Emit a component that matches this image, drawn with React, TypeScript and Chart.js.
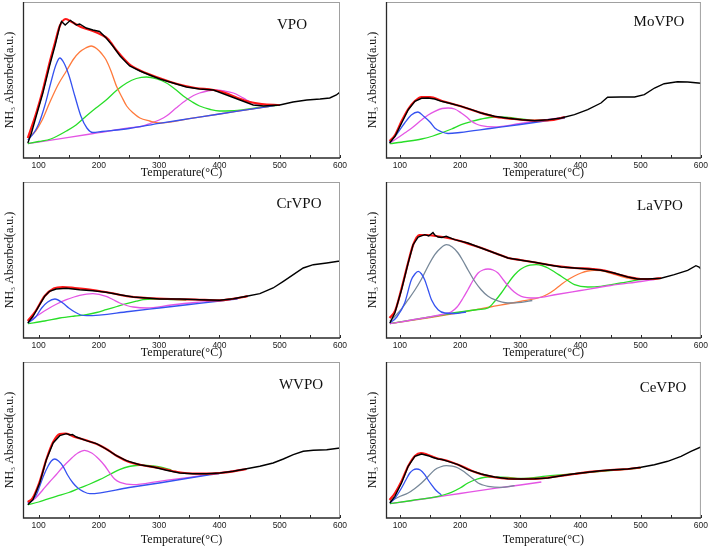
import React, { useEffect, useRef } from "react";
import { Chart, registerables } from "chart.js";
Chart.register(...registerables);

type Pt = [number, number];

const tickValues = [100, 200, 300, 400, 500, 600];
const minorTickValues = [150, 250, 350, 450, 550];
const xTitle = "Temperature(°C)";
const yTitle = "NH₃ Absorbed(a.u.)";

// ---------- VPO ----------
const vpoBlack: Pt[] = [[82,15],[88,25],[96,42],[107,65],[118,92],[127,112],[135,132],[138,136.5],[144,133],[152.6,137.7],[162.6,133],[168,134],[179,130],[190,128],[201,126.5],[212,120],[223,112],[235,102],[251,92],[268,87],[284,83],[301,79],[323,75],[345,71],[367,69],[390,68],[412,63],[434,58],[456,53],[473,52],[500,53],[522,56],[545,58],[567,59],[583,60],[594,63],[600,66]];
const vpoRed: Pt[] = [[82,20],[96,45],[107,68],[118,95],[127,115],[135,132],[145,139],[155,136],[170,131],[190,127],[205,123],[215,119],[230,107],[250,94],[270,87],[300,80],[330,74],[360,70],[390,68],[410,65],[430,60],[450,56],[470,54],[500,53]];
const vpoBlue: Pt[] = [[82,18],[92,25],[100,34],[110,52],[120,75],[128,92],[135,100],[142,95],[150,83],[160,62],[170,42],[180,30],[190,25.5],[205,26.5],[250,29.5],[300,34.6],[350,39.3],[400,44],[450,48.6],[500,53.3]];
const vpoOrange: Pt[] = [[82,20],[95,27],[105,37],[118,55],[132,73],[146,87],[158,99],[168,106],[178,110],[187,112],[197,109],[205,104],[212,98],[220,87],[229,72],[238,61],[246,52],[257,45],[268,40],[284,37],[300,35],[350,39.3],[400,44],[450,48.6],[500,53.3]];
const vpoGreen: Pt[] = [[82,14.3],[100,16.5],[120,19],[146,27],[162,33],[179,42],[195,50],[212,58],[230,68],[246,75],[262,79.5],[279,81],[296,79],[312,75],[326,69],[340,62],[355,56],[367,52],[385,48.5],[400,47],[430,47.5],[460,50],[500,53]];
const vpoMagenta: Pt[] = [[82,14.3],[150,20.6],[200,25.3],[250,30],[270,31.5],[285,34.5],[300,38],[312,42],[328,50],[345,58],[357,62.5],[367,65],[380,67],[392,68],[408,67],[423,65],[435,61.5],[445,58],[456,55],[467,53.5],[500,53.3]];

// ---------- MoVPO ----------
const moBlack: Pt[] = [[83,15],[92,21.7],[103,35],[114,48.3],[125,56.7],[136,59.7],[147,60],[158,59],[169,56.7],[186,54.3],[202,51.7],[219,48.3],[235,45],[257,41.7],[280,39.7],[302,38.3],[324,37.3],[346,38.3],[368,40],[390,43.3],[412,48.3],[434,55],[445,60.7],[467,61],[490,61],[506,63.3],[523,70],[539,74.3],[561,76.3],[578,76],[600,74.7]];
const moRed: Pt[] = [[83,17],[92,23],[103,37],[114,49],[125,57],[136,61],[150,61],[170,57],[200,52],[230,46],[260,41],[290,39],[320,37.5],[350,37.8],[365,39.5],[374,41]];
const moBlue: Pt[] = [[83,16],[95,24],[108,35],[119,43],[130,46],[140,41.5],[150,36],[158,30],[168,26.5],[180,24.5],[200,25.5],[250,29.5],[300,33.5],[335,36.5],[374,40]];
const moMagenta: Pt[] = [[83,15],[96,20],[108,25],[122,31],[136,38],[147,43],[158,46.7],[170,49.5],[180,50],[191,49],[202,45],[211,41],[219,36.7],[227,34],[235,32.3],[257,31],[300,34.5],[340,38],[374,41]];
const moGreen: Pt[] = [[83,14.3],[110,16.5],[136,19],[155,22],[169,25],[186,29],[202,33.3],[219,36.5],[235,39],[257,41],[280,40.7],[302,39],[324,37.7],[350,38],[374,40.5]];

// ---------- CrVPO ----------
const crBlack: Pt[] = [[82,15],[90.6,21.7],[101.7,33.3],[110,41.7],[118,46.7],[129,49],[146,49.7],[168,48.3],[190,47.3],[212,45.7],[234.5,43.3],[256.7,41],[279,40],[301,39],[334,39],[367,38.3],[400.6,37.7],[423,39.3],[445,41.7],[467,44.3],[489,50],[506,56.7],[522.5,63.3],[539,70],[555.7,73.3],[578,75],[597,76.7],[600,76.7]];
const crRed: Pt[] = [[82,17],[95,27],[110,42],[125,49.5],[140,51],[160,50],[190,48],[220,45],[250,41.5],[280,40],[320,39],[360,38.5],[400,37.7],[420,39],[440,41],[447,42]];
const crBlue: Pt[] = [[82,15],[95,21],[105,30],[115,36],[127,39],[140,35],[150,30],[160,26],[170,23],[180,22.3],[250,26.5],[300,30],[350,33.5],[400,37],[430,39]];
const crMagenta: Pt[] = [[82,16.7],[97,22],[113,28.3],[130,34],[146,38.3],[168,42.7],[190,44.3],[212,41.7],[223,38.5],[234.5,35],[246,32.5],[257,31],[279,30],[320,33],[360,35.5],[412,38]];
const crGreen: Pt[] = [[82,14.3],[110,17],[135,20],[160,22],[179,23.3],[196,25.5],[212,28.3],[230,31.5],[246,34.3],[262,36.8],[273,38.3],[290,39],[301,39],[323,38.3],[345,38]];

// ---------- LaVPO ----------
const laBlack: Pt[] = [[83.4,15],[91.7,25],[102.8,48.3],[113.8,75],[122,93.3],[130.4,101],[141.4,103.3],[148,102],[155,105.5],[158,103],[163.5,101],[170,100.5],[177,101.7],[191,98.3],[213,95],[235,90],[257.5,85],[279.6,80],[301.7,77.7],[323.8,75.7],[346,73.3],[368,71],[390,70],[412,69],[434,67.7],[456,65],[478.5,61],[495,59],[511.6,59],[533.7,59.7],[555.8,63.3],[578,67.7],[591.7,72.3],[597,71],[600,69]];
const laRed: Pt[] = [[83,20],[92,27],[103,50],[114,76],[122,93],[132,103],[145,103],[160,102],[180,100],[200,97],[220,93],[240,89],[260,84.5],[280,80],[300,78],[330,75],[360,72],[390,70],[420,69],[440,67.5],[460,64],[480,61],[500,59],[520,59],[534,60]];
const laBlue: Pt[] = [[83.4,15],[95,21],[108,35],[119,58],[125,64],[130.4,66.7],[136,64],[141.4,58],[147,48],[152.5,38.3],[163.5,28.3],[174.6,25],[191,24.5],[210,26]];
const laGrey: Pt[] = [[83.4,16.7],[100,27],[113.8,38.3],[125,48],[136,59],[147,72],[158,83.3],[168,90],[177.4,93.3],[187,91],[196.7,85],[205,77],[213,68.3],[224,57],[235,48.3],[246,42],[257.5,38.3],[279.6,35],[301.7,35.7],[320,37.5]];
const laMagenta: Pt[] = [[83.4,14.3],[130,19],[170,23.5],[185,26],[195,31],[205,40],[213,48.3],[222,58],[230,65],[238,68],[246.4,69],[255,68],[263,65],[272,58],[279.6,52.3],[290,46],[301.7,41.7],[323.8,40],[360,43.5],[400,47.5],[450,52.5],[500,56.5],[523,58.5]];
const laGreen: Pt[] = [[83.4,14.3],[150,21],[200,26],[230,28.5],[246.4,30],[258,37],[268.5,45],[280,55],[290.6,63.3],[300,68.5],[307,71],[316,72.8],[326.5,73.3],[336,72.5],[346,70],[357,66],[368,61.7],[380,57],[390,53.3],[412,51],[434,51.7],[467,55],[500,58.3],[533.7,59.7]];
const laOrange: Pt[] = [[83.4,14.3],[150,20.5],[200,25.5],[250,31],[300,36.5],[335,41],[346,44],[357,48.3],[368,53.5],[379,58.3],[390,62],[401,65],[412,67],[423,67.7],[434,67.3],[445,65.7],[456,63.5],[467,61.7],[478,60],[490,59],[523,59]];

// ---------- WVPO ----------
const wBlack: Pt[] = [[82,13.3],[90.6,18.3],[101.7,35],[112.7,58.3],[124,75],[135,82.3],[146,84.3],[152,83],[156,83.5],[162.6,81],[179,77.3],[196,74.3],[212,69],[229,62.3],[245.6,57.3],[267.8,53.3],[290,51],[312,47.7],[334,45],[356,44.3],[378.5,44.3],[400.6,45],[423,46.7],[445,49.3],[467,51.7],[489,55],[506,59],[522.5,63.3],[539,66.7],[555.7,67.7],[578,68.3],[600,70]];
const wRed: Pt[] = [[82,16],[90,20],[102,37],[113,59],[124,76],[135,84],[145,84.5],[160,81],[180,77.5],[200,73],[215,68],[230,62],[250,56],[270,53],[300,50],[330,46],[360,44.3],[380,44.3],[400,45],[420,46.3],[445,49]];
const wBlue: Pt[] = [[82,15],[95,22],[101.7,31.7],[108,42],[115.5,51.7],[121,57],[126.6,59],[133,57],[140.4,51.7],[148,43],[157,35],[165,30],[173.6,26.7],[184.7,24.3],[250,30.5],[300,35],[350,40],[400,44.5]];
const wMagenta: Pt[] = [[82,14.3],[95,20],[107,28.3],[118,36],[129,43.3],[140,51],[152,58.3],[165,65],[176,67.7],[188,65],[201,58.3],[210,52],[218,45],[226,39],[235,35.7],[257,33.3],[300,36.7],[350,40.7],[400,45],[440,48.5]];
const wGreen: Pt[] = [[82,13.3],[100,16],[129,21.7],[150,25.5],[168,30],[185,34],[201,38.3],[218,43.5],[234,48.3],[250,51.5],[262,52.5],[273,52.8],[290,52],[301,51],[320,48]];

// ---------- CeVPO ----------
const ceBlack: Pt[] = [[83.4,15],[91.7,21.7],[102.8,35],[113.8,51.7],[124.9,61.7],[136,64],[147,62.3],[155,60.5],[163.5,59],[170,58.5],[180,56.7],[196.7,53.3],[213,48.3],[235,44],[257.5,41],[279.6,39.3],[301.7,39],[323.8,39.3],[346,40],[368,42.3],[390,44.3],[412,45.7],[434,47.3],[456,48.3],[478.5,49],[500.6,50.7],[522.7,53.3],[544.8,56.7],[567,61.7],[583.4,66.7],[600,71]];
const ceRed: Pt[] = [[83,18],[92,25],[103,37],[114,52],[125,62],[135,65],[145,63.5],[160,60],[180,57],[200,52.5],[220,47],[240,43],[260,40.5],[280,39.3],[300,39],[330,39.3],[360,41.5],[390,44],[420,46.3],[450,48],[480,49],[500,50.5]];
const ceBlue: Pt[] = [[83.4,15],[92,20],[102.8,30],[110,38],[116.6,45],[122,48],[127.6,49],[134,48],[141.4,43.3],[147,38],[152.5,33.3],[158,29],[163.5,25.7],[169,23.3]];
const ceGrey: Pt[] = [[83.4,16.7],[98,21],[113.8,25],[125,29.5],[136,35],[147,41.5],[158,48.3],[167,51],[177.4,52.3],[187,51.8],[196.7,50],[205,47],[213,43.3],[222,39],[230,35],[238,33],[246.4,31.7],[268.5,30.7],[290.6,32.3]];
const ceGreen: Pt[] = [[83.4,14.3],[120,17.5],[163.5,21.7],[175,23.5],[185.6,25.7],[200,30],[213,35],[224,38],[235,40],[246,41],[257.5,41],[280,40.5],[300,39.5],[350,42.3],[400,44.8],[450,47.5],[500,50]];
const ceMagenta: Pt[] = [[83.4,14.3],[150,20],[200,24.5],[260,29.8],[300,33],[335,36]];

const COL = {
  black: "#000000",
  red: "#ff1616",
  blue: "#3552f0",
  orange: "#ff7a3c",
  green: "#28de28",
  magenta: "#e455e4",
  grey: "#778899",
};

type Series = { pts: Pt[]; color: string; noisy?: boolean; w?: number };

type PanelProps = {
  left: number;
  top: number;
  width: number;
  height: number;
  padLeft: number;
  padRight: number;
  xMin: number;
  name: string;
  nameX: number;
  nameY: number;
  series: Series[];
};

function Panel(p: PanelProps) {
  const ref = useRef<HTMLCanvasElement | null>(null);
  useEffect(() => {
    const framePlugin = {
      id: "frameAndLabel",
      afterDraw(chart: any) {
        const { ctx, chartArea: a, scales } = chart;
        ctx.save();
        ctx.strokeStyle = "#a0a0a0";
        ctx.lineWidth = 1;
        ctx.beginPath();
        ctx.moveTo(a.left, a.top + 0.5);
        ctx.lineTo(a.right, a.top + 0.5);
        ctx.moveTo(a.right - 0.5, a.top);
        ctx.lineTo(a.right - 0.5, a.bottom);
        ctx.stroke();
        ctx.strokeStyle = "#2a2a2a";
        ctx.lineWidth = 1.3;
        ctx.beginPath();
        ctx.moveTo(a.left + 0.5, a.top);
        ctx.lineTo(a.left + 0.5, a.bottom);
        ctx.lineTo(a.right, a.bottom);
        ctx.stroke();
        ctx.lineWidth = 1;
        ctx.beginPath();
        for (const v of [...tickValues, ...minorTickValues]) {
          const x = Math.round(scales.x.getPixelForValue(v)) + 0.5;
          ctx.moveTo(x, a.bottom);
          ctx.lineTo(x, a.bottom - 3);
        }
        ctx.stroke();
        ctx.fillStyle = "#111";
        ctx.font = "15px 'Liberation Serif'";
        ctx.textAlign = "center";
        ctx.textBaseline = "middle";
        ctx.fillText(p.name, p.nameX, p.nameY);
        ctx.restore();
      },
    };
    const chart = new Chart(ref.current as HTMLCanvasElement, {
      type: "line",
      data: {
        datasets: p.series.map((s) => ({
          data: s.pts.map(([x, y]) => ({ x, y })),
          borderColor: s.color,
          borderWidth: s.w ?? (s.noisy ? 1.4 : 1.3),
          pointRadius: 0,
          fill: false,
          tension: s.noisy ? 0 : 0.4,
          cubicInterpolationMode: s.noisy ? "default" : "monotone",
        })),
      },
      options: {
        responsive: false,
        animation: false,
        layout: { padding: { left: p.padLeft, right: p.padRight, top: 2, bottom: 0 } },
        plugins: { legend: { display: false }, tooltip: { enabled: false } },
        scales: {
          x: {
            type: "linear",
            min: p.xMin,
            max: 600,
            grid: { display: false, drawTicks: false },
            border: { display: false },
            afterBuildTicks: (s: any) => {
              s.ticks = tickValues.map((v) => ({ value: v }));
            },
            afterFit: (s: any) => {
              s.height = p.height - 2 - 156;
            },
            ticks: {
              font: { family: "'Liberation Sans'", size: 8.5 },
              color: "#222",
              padding: 3,
              maxRotation: 0,
              autoSkip: false,
            },
            title: {
              display: true,
              text: xTitle,
              font: { family: "'Liberation Serif'", size: 12 },
              color: "#111",
              padding: { top: 0, bottom: 0 },
            },
          },
          y: {
            min: 0,
            max: 156,
            grid: { display: false, drawTicks: false },
            border: { display: false },
            ticks: { display: false },
            afterFit: (s: any) => {
              s.width = 23;
            },
            title: {
              display: true,
              text: yTitle,
              font: { family: "'Liberation Serif'", size: 12 },
              color: "#111",
              padding: { top: 3, bottom: 0 },
            },
          },
        },
      } as any,
      plugins: [framePlugin],
    });
    return () => chart.destroy();
  }, []);
  return (
    <canvas
      ref={ref}
      width={p.width}
      height={p.height}
      style={{ position: "absolute", left: p.left, top: p.top, width: p.width, height: p.height }}
    />
  );
}

const L = { left: 0, width: 355, padLeft: 0, padRight: 15, xMin: 74 };
const R = { left: 355, width: 356, padLeft: 8, padRight: 8, xMin: 77 };

export default function App() {
  return (
    <div style={{ position: "absolute", left: 0, top: 0, width: 711, height: 547, background: "#fff" }}>
      <Panel {...L} top={0} height={180} name="VPO" nameX={292} nameY={25}
        series={[
          { pts: vpoBlack, color: COL.black, noisy: true },
          { pts: vpoRed, color: COL.red, w: 2.2 },
          { pts: vpoBlue, color: COL.blue },
          { pts: vpoOrange, color: COL.orange },
          { pts: vpoGreen, color: COL.green },
          { pts: vpoMagenta, color: COL.magenta },
        ]} />
      <Panel {...R} top={0} height={180} name="MoVPO" nameX={304} nameY={22}
        series={[
          { pts: moBlack, color: COL.black, noisy: true },
          { pts: moRed, color: COL.red, w: 2.2 },
          { pts: moBlue, color: COL.blue },
          { pts: moMagenta, color: COL.magenta },
          { pts: moGreen, color: COL.green },
        ]} />
      <Panel {...L} top={180} height={180} name="CrVPO" nameX={299} nameY={24}
        series={[
          { pts: crBlack, color: COL.black, noisy: true },
          { pts: crRed, color: COL.red, w: 2.2 },
          { pts: crBlue, color: COL.blue },
          { pts: crMagenta, color: COL.magenta },
          { pts: crGreen, color: COL.green },
        ]} />
      <Panel {...R} top={180} height={180} name="LaVPO" nameX={305} nameY={26}
        series={[
          { pts: laBlack, color: COL.black, noisy: true },
          { pts: laRed, color: COL.red, w: 2.2 },
          { pts: laBlue, color: COL.blue },
          { pts: laGrey, color: COL.grey },
          { pts: laMagenta, color: COL.magenta },
          { pts: laGreen, color: COL.green },
          { pts: laOrange, color: COL.orange },
        ]} />
      <Panel {...L} top={360} height={187} name="WVPO" nameX={301} nameY={25}
        series={[
          { pts: wBlack, color: COL.black, noisy: true },
          { pts: wRed, color: COL.red, w: 2.2 },
          { pts: wBlue, color: COL.blue },
          { pts: wMagenta, color: COL.magenta },
          { pts: wGreen, color: COL.green },
        ]} />
      <Panel {...R} top={360} height={187} name="CeVPO" nameX={308} nameY={28}
        series={[
          { pts: ceBlack, color: COL.black, noisy: true },
          { pts: ceRed, color: COL.red, w: 2.2 },
          { pts: ceBlue, color: COL.blue },
          { pts: ceGrey, color: COL.grey },
          { pts: ceGreen, color: COL.green },
          { pts: ceMagenta, color: COL.magenta },
        ]} />
    </div>
  );
}
